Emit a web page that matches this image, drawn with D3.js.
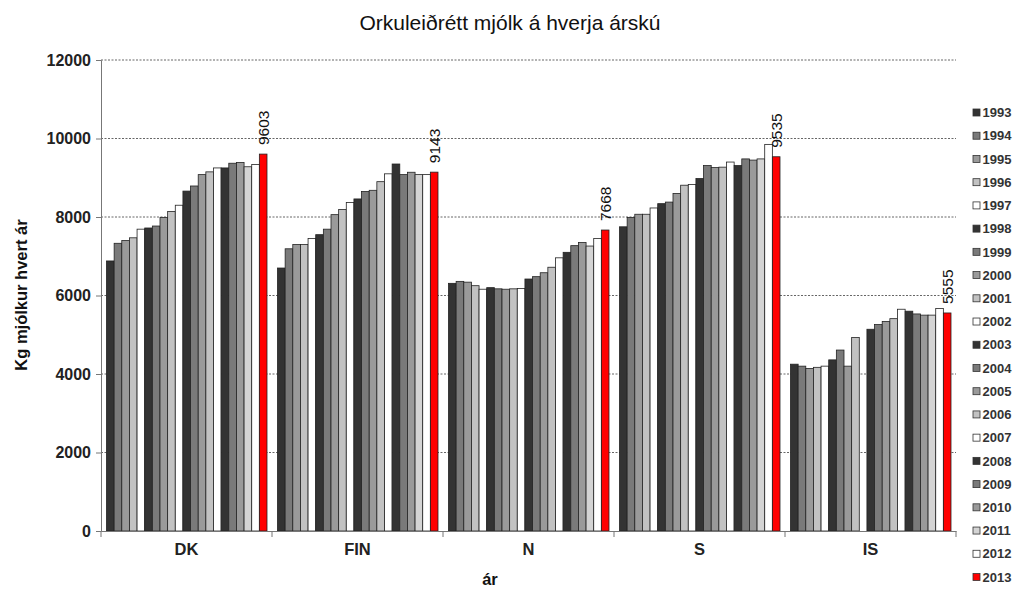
<!DOCTYPE html>
<html>
<head>
<meta charset="utf-8">
<script src="https://cdn.jsdelivr.net/npm/d3@7/dist/d3.min.js"></script>
<style>
  body { margin: 0; background: #fff; }
  svg { display: block; font-family: "Liberation Sans", Arial, sans-serif; }
</style>
</head>
<body>
<svg id="chart" width="1014" height="590"></svg>
<script>
const categories = ["DK", "FIN", "N", "S", "IS"];
const years = ["1993","1994","1995","1996","1997","1998","1999","2000","2001","2002",
               "2003","2004","2005","2006","2007","2008","2009","2010","2011","2012","2013"];
const valuesDK  = [6880,7330,7400,7470,7690,7720,7770,7990,8140,8300,8660,8790,9080,9150,9250,9250,9370,9390,9280,9340,9603];
const valuesFIN = [6700,7190,7300,7300,7450,7550,7690,8060,8190,8370,8460,8650,8680,8900,9100,9350,9080,9140,9080,9080,9143];
const valuesN   = [6310,6360,6340,6250,6160,6200,6170,6160,6170,6180,6420,6480,6580,6720,6960,7100,7270,7350,7260,7450,7668];
const valuesS   = [7750,7990,8070,8070,8230,8340,8380,8600,8810,8830,8980,9310,9260,9270,9400,9310,9480,9450,9480,9850,9535];
const valuesIS  = [4250,4200,4140,4170,4200,4360,4610,4200,4930,null,5140,5260,5340,5410,5650,5600,5530,5500,5500,5670,5555];
const yTicks = [0, 2000, 4000, 6000, 8000, 10000, 12000];
const yearColors = ["#333333","#7a7a7a","#9a9a9a","#c2c2c2","#ffffff",
                    "#333333","#7a7a7a","#9a9a9a","#c2c2c2","#ffffff",
                    "#333333","#7a7a7a","#9a9a9a","#c2c2c2","#ffffff",
                    "#333333","#7a7a7a","#9a9a9a","#d4d4d4","#ffffff","#ff0000"];

const seriesByCat = { DK: valuesDK, FIN: valuesFIN, N: valuesN, S: valuesS, IS: valuesIS };
const rows = [];
categories.forEach(c => years.forEach((y, i) => {
  const v = seriesByCat[c][i];
  if (v != null) rows.push({ cat: c, year: y, value: v, idx: i });
}));

const svg = d3.select("#chart");

const x0 = d3.scaleBand().domain(categories).range([101, 956]).padding(0);
const x1 = d3.scaleBand().domain(years).range([5.5, x0.bandwidth() - 5]).padding(0);
const y = d3.scaleLinear().domain([0, 12000]).range([531, 60]);

// Title
svg.append("text")
  .attr("x", 510).attr("y", 30)
  .attr("text-anchor", "middle")
  .attr("font-size", 21)
  .attr("fill", "#111")
  .text("Orkuleiðrétt mjólk á hverja árskú");

// Gridlines
svg.append("g")
  .selectAll("line")
  .data(yTicks.filter(d => d > 0))
  .join("line")
  .attr("x1", 101).attr("x2", 956)
  .attr("y1", d => y(d)).attr("y2", d => y(d))
  .attr("stroke", "#666")
  .attr("stroke-width", 1)
  .attr("stroke-dasharray", "2,1.5");

// Bars
svg.append("g")
  .selectAll("rect")
  .data(rows)
  .join("rect")
  .attr("x", d => x0(d.cat) + x1(d.year))
  .attr("y", d => y(d.value))
  .attr("width", x1.bandwidth())
  .attr("height", d => y(0) - y(d.value))
  .attr("fill", d => yearColors[d.idx])
  .attr("stroke", "#222")
  .attr("stroke-width", 0.8);

// Value labels for last year
svg.append("g")
  .selectAll("text")
  .data(rows.filter(d => d.year === "2013"))
  .join("text")
  .attr("transform", d => `translate(${x0(d.cat) + x1(d.year) + x1.bandwidth() / 2 + 5.5},${y(d.value) - 9}) rotate(-90)`)
  .attr("font-size", 15.5)
  .attr("fill", "#111")
  .text(d => d.value);

// Y axis
const yAxis = svg.append("g")
  .attr("transform", "translate(101,0)")
  .call(d3.axisLeft(y).tickValues(yTicks).tickSize(5).tickFormat(d3.format("d")));
yAxis.select(".domain").attr("stroke", "#777");
yAxis.selectAll(".tick line").attr("stroke", "#777");
yAxis.selectAll(".tick text")
  .attr("font-family", "Liberation Sans, Arial, sans-serif")
  .attr("font-size", 16).attr("font-weight", "bold").attr("fill", "#222")
  .attr("x", -10);

// X axis
const xAxis = svg.append("g")
  .attr("transform", "translate(0,531)")
  .call(d3.axisBottom(x0).tickSize(0).tickPadding(12));
xAxis.select(".domain").attr("stroke", "#777");
xAxis.selectAll(".tick text")
  .attr("font-family", "Liberation Sans, Arial, sans-serif")
  .attr("font-size", 16.5).attr("font-weight", "bold").attr("fill", "#222");
// category separators
svg.append("g")
  .selectAll("line")
  .data(categories.concat(["__end"]))
  .join("line")
  .attr("x1", (d, i) => i < categories.length ? x0(d) : x0.range()[1])
  .attr("x2", (d, i) => i < categories.length ? x0(d) : x0.range()[1])
  .attr("y1", 531).attr("y2", 537)
  .attr("stroke", "#777");

// Axis titles
svg.append("text")
  .attr("transform", "translate(27,295) rotate(-90)")
  .attr("text-anchor", "middle")
  .attr("font-size", 16.5).attr("font-weight", "bold").attr("fill", "#111")
  .text("Kg mjólkur hvert ár");
svg.append("text")
  .attr("x", 490).attr("y", 585)
  .attr("text-anchor", "middle")
  .attr("font-size", 16.5).attr("font-weight", "bold").attr("fill", "#111")
  .text("ár");

// Legend
const legend = svg.append("g");
const ly = d3.scalePoint().domain(years).range([112.5, 577]);
const li = legend.selectAll("g").data(years).join("g")
  .attr("transform", d => `translate(973,${ly(d)})`);
li.append("rect")
  .attr("x", 0).attr("y", -3.5).attr("width", 7).attr("height", 7)
  .attr("fill", (d, i) => yearColors[i])
  .attr("stroke", "#333").attr("stroke-width", 0.8);
li.append("text")
  .attr("x", 9.5).attr("y", 0).attr("dy", "0.36em")
  .attr("font-size", 13).attr("font-weight", "bold").attr("fill", "#333")
  .text(d => d);
</script>
</body>
</html>
